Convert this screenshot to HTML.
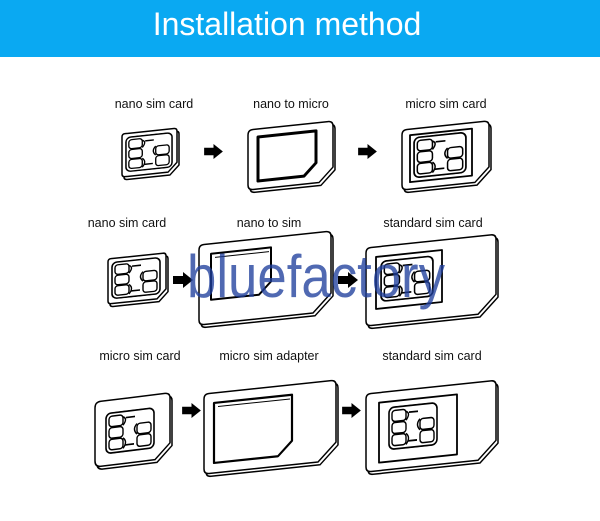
<!DOCTYPE html>
<html><head><meta charset="utf-8"><style>
html,body{margin:0;padding:0;background:#fff;width:600px;height:521px;overflow:hidden}
svg{display:block}
text{font-family:"Liberation Sans",Arial,sans-serif}
</style></head><body>
<svg width="600" height="521" viewBox="0 0 600 521" xmlns="http://www.w3.org/2000/svg">
<defs>
<symbol id="chip" viewBox="0 0 50 40" preserveAspectRatio="none">
 <rect x="1" y="1" width="48" height="38" rx="5" fill="#fff" stroke="#000" stroke-width="1.6"/>
 <rect x="4" y="4" width="14" height="10" rx="3" fill="#fff" stroke="#000" stroke-width="1.4"/>
 <rect x="4" y="15" width="14" height="10" rx="3" fill="#fff" stroke="#000" stroke-width="1.4"/>
 <rect x="4" y="26" width="14" height="10" rx="3" fill="#fff" stroke="#000" stroke-width="1.4"/>
 <rect x="32" y="14" width="14" height="10" rx="3" fill="#fff" stroke="#000" stroke-width="1.4"/>
 <rect x="32" y="25" width="14" height="11" rx="3" fill="#fff" stroke="#000" stroke-width="1.4"/>
 <path d="M18,6 Q23,8 18,14 M18,26 Q23,30 18,36 M32,14 Q27,19 32,24" fill="none" stroke="#000" stroke-width="1.4"/>
 <line x1="21" y1="7" x2="30" y2="7" stroke="#000" stroke-width="1.6"/>
 <line x1="20" y1="33" x2="29" y2="33" stroke="#000" stroke-width="1.6"/>
</symbol>
<symbol id="arrow" viewBox="0 0 20 16">
 <polygon points="0,4 10,4 10,0 20,8 10,16 10,12 0,12" fill="#000"/>
</symbol>
</defs>
<rect x="0" y="0" width="600" height="57" fill="#0aa9f2"/>
<text x="287" y="35" font-size="32" fill="#fff" text-anchor="middle">Installation method</text>

<g font-size="12.5" fill="#111" text-anchor="middle">
<text x="154" y="108">nano sim card</text>
<text x="291" y="108">nano to micro</text>
<text x="446" y="108">micro sim card</text>
<text x="127" y="227">nano sim card</text>
<text x="269" y="227">nano to sim</text>
<text x="433" y="227">standard sim card</text>
<text x="140" y="360">micro sim card</text>
<text x="269" y="360">micro sim adapter</text>
<text x="432" y="360">standard sim card</text>
</g>

<g fill="#fff" stroke="#000" stroke-width="1.5" stroke-linejoin="round">
<!-- Row 1 -->
<g transform="translate(122,134) skewY(-6)">
 <path transform="translate(2,3)" d="M3,0 H52 Q55,0 55,3 V34 L46,43 H3 Q0,43 0,40 V3 Q0,0 3,0 Z"/>
 <path d="M3,0 H52 Q55,0 55,3 V34 L46,43 H3 Q0,43 0,40 V3 Q0,0 3,0 Z"/>
 <use href="#chip" x="3" y="3" width="48" height="36"/>
</g>
<g transform="translate(248,130) skewY(-6)">
 <path transform="translate(2,3)" d="M5,0 H80 Q85,0 85,5 V46 L71,60 H5 Q0,60 0,55 V5 Q0,0 5,0 Z"/>
 <path d="M5,0 H80 Q85,0 85,5 V46 L71,60 H5 Q0,60 0,55 V5 Q0,0 5,0 Z"/>
 <path d="M10,8 H68 V40 L56,52 H10 Z" stroke-width="3"/>
</g>
<g transform="translate(402,130) skewY(-6)">
 <path transform="translate(2,3)" d="M5,0 H82 Q87,0 87,5 V46 L73,60 H5 Q0,60 0,55 V5 Q0,0 5,0 Z"/>
 <path d="M5,0 H82 Q87,0 87,5 V46 L73,60 H5 Q0,60 0,55 V5 Q0,0 5,0 Z"/>
 <rect x="8" y="6" width="62" height="47" stroke-width="1.8"/>
 <use href="#chip" x="11" y="8" width="54" height="42"/>
</g>
<!-- Row 2 -->
<g transform="translate(108,259) skewY(-6)">
 <path transform="translate(2,3)" d="M3,0 H55 Q58,0 58,3 V36 L49,45 H3 Q0,45 0,42 V3 Q0,0 3,0 Z"/>
 <path d="M3,0 H55 Q58,0 58,3 V36 L49,45 H3 Q0,45 0,42 V3 Q0,0 3,0 Z"/>
 <use href="#chip" x="3" y="3" width="50" height="38"/>
</g>
<g transform="translate(199,245) skewY(-6)">
 <path transform="translate(2,3)" d="M5,0 H127 Q132,0 132,5 V62 L114,80 H5 Q0,80 0,75 V5 Q0,0 5,0 Z"/>
 <path d="M5,0 H127 Q132,0 132,5 V62 L114,80 H5 Q0,80 0,75 V5 Q0,0 5,0 Z"/>
 <path d="M12,10 H72 V44 L60,56 H12 Z" stroke-width="2"/>
 <path d="M16,14 H70" stroke-width="1"/>
</g>
<g transform="translate(366,248) skewY(-6)">
 <path transform="translate(2,3)" d="M5,0 H125 Q130,0 130,5 V60 L112,78 H5 Q0,78 0,73 V5 Q0,0 5,0 Z"/>
 <path d="M5,0 H125 Q130,0 130,5 V60 L112,78 H5 Q0,78 0,73 V5 Q0,0 5,0 Z"/>
 <rect x="10" y="10" width="66" height="52" stroke-width="1.8"/>
 <use href="#chip" x="14" y="14" width="54" height="42"/>
</g>
<!-- Row 3 -->
<g transform="translate(95,402) skewY(-7)">
 <path transform="translate(2,3)" d="M6,0 H70 Q75,0 75,5 V50 L60,65 H6 Q0,65 0,59 V6 Q0,0 6,0 Z"/>
 <path d="M6,0 H70 Q75,0 75,5 V50 L60,65 H6 Q0,65 0,59 V6 Q0,0 6,0 Z"/>
 <use href="#chip" x="10" y="12" width="50" height="42"/>
</g>
<g transform="translate(204,394) skewY(-6)">
 <path transform="translate(2,3)" d="M5,0 H127 Q132,0 132,5 V62 L114,80 H5 Q0,80 0,75 V5 Q0,0 5,0 Z"/>
 <path d="M5,0 H127 Q132,0 132,5 V62 L114,80 H5 Q0,80 0,75 V5 Q0,0 5,0 Z"/>
 <path d="M10,10 H88 V56 L74,70 H10 Z" stroke-width="2.2"/>
 <path d="M14,14 H86" stroke-width="1"/>
</g>
<g transform="translate(366,394) skewY(-6)">
 <path transform="translate(2,3)" d="M5,0 H125 Q130,0 130,5 V60 L112,78 H5 Q0,78 0,73 V5 Q0,0 5,0 Z"/>
 <path d="M5,0 H125 Q130,0 130,5 V60 L112,78 H5 Q0,78 0,73 V5 Q0,0 5,0 Z"/>
 <rect x="13" y="10" width="78" height="60" stroke-width="1.8"/>
 <use href="#chip" x="22" y="15" width="50" height="44"/>
</g>
</g>

<use href="#arrow" x="204" y="144" width="19" height="15"/>
<use href="#arrow" x="358" y="144" width="19" height="15"/>
<use href="#arrow" x="173" y="272" width="20" height="16"/>
<use href="#arrow" x="338" y="272" width="20" height="16"/>
<use href="#arrow" x="182" y="403" width="19" height="15"/>
<use href="#arrow" x="342" y="403" width="19" height="15"/>

<text x="187" y="297" font-size="60" fill="#1f3f9c" fill-opacity="0.78" textLength="258" lengthAdjust="spacingAndGlyphs">bluefactory</text>
</svg>
</body></html>
